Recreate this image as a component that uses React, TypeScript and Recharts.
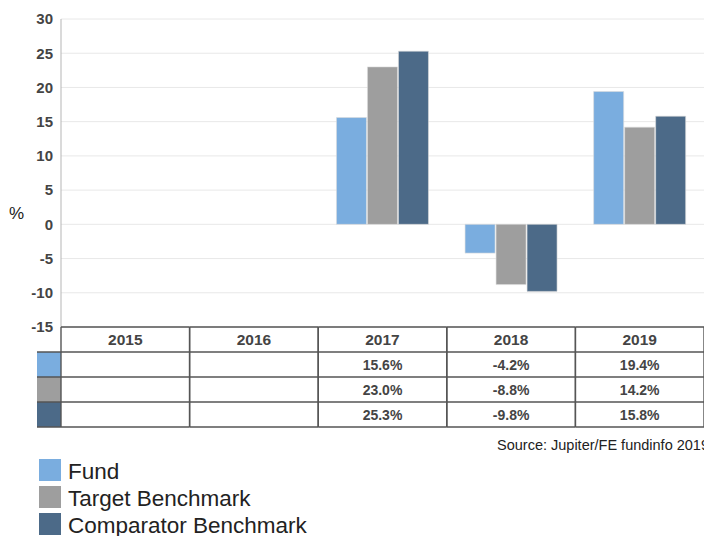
import { BarChart, Bar, XAxis, YAxis, CartesianGrid } from "recharts";

const YEARS = ["2015", "2016", "2017", "2018", "2019"];
const FUND = [null, null, 15.6, -4.2, 19.4];
const TARGET = [null, null, 23.0, -8.8, 14.2];
const COMPARATOR = [null, null, 25.3, -9.8, 15.8];
const Y_TICKS = [-15, -10, -5, 0, 5, 10, 15, 20, 25, 30];

const SERIES = [
  { key: "fund", name: "Fund", color: "#7aaddf", values: FUND },
  { key: "target", name: "Target Benchmark", color: "#9e9e9e", values: TARGET },
  { key: "comparator", name: "Comparator Benchmark", color: "#4c6a88", values: COMPARATOR },
];

const chartData = YEARS.map((year, i) => ({
  year,
  fund: FUND[i],
  target: TARGET[i],
  comparator: COMPARATOR[i],
}));

const FONT = '"Liberation Sans", Arial, sans-serif';
const CHART_W = 720;
const CHART_H = 536;
const Y_AXIS_W = 61;
const MARGIN = { top: 19, right: 16, left: 0, bottom: 109 };
const TABLE_H = 100;
const ROW_H = 25;
const SWATCH_W = 24;
const BAND = (CHART_W - MARGIN.right - MARGIN.left - Y_AXIS_W) / YEARS.length;
const LINE = "#555";

const fmt = (v: number | null) => (v == null ? "" : `${v.toFixed(1)}%`);

// x axis ticks draw the data table under the plot, one column per year
function TableTick(props: any) {
  const { x, y, payload } = props;
  const idx = payload.index ?? props.index ?? YEARS.indexOf(payload.value);
  const left = x - BAND / 2;
  const right = x + BAND / 2;
  const rows = [0, 1, 2, 3, 4].map((r) => y + r * ROW_H);
  return (
    <g>
      {idx === 0 &&
        SERIES.map((s, r) => (
          <rect
            key={s.key}
            x={left - SWATCH_W}
            y={rows[r + 1]}
            width={SWATCH_W}
            height={ROW_H}
            fill={s.color}
          />
        ))}
      {rows.map((ry, r) => (
        <line
          key={r}
          x1={idx === 0 && r > 0 ? left - SWATCH_W : left}
          x2={right}
          y1={ry}
          y2={ry}
          stroke={LINE}
          strokeWidth={1.4}
        />
      ))}
      <line x1={left} x2={left} y1={y} y2={y + TABLE_H} stroke={LINE} strokeWidth={1.4} />
      <line x1={right} x2={right} y1={y} y2={y + TABLE_H} stroke={LINE} strokeWidth={1.4} />
      <text
        x={x}
        y={y + 18}
        textAnchor="middle"
        fontFamily={FONT}
        fontWeight="bold"
        fontSize={15.5}
        fill="#444"
      >
        {payload.value}
      </text>
      {SERIES.map((s, r) => (
        <text
          key={s.key}
          x={x}
          y={rows[r + 1] + 18}
          textAnchor="middle"
          fontFamily={FONT}
          fontWeight="bold"
          fontSize={14}
          fill="#444"
        >
          {fmt(s.values[idx])}
        </text>
      ))}
    </g>
  );
}

export default function App() {
  return (
    <div
      style={{
        position: "fixed",
        left: 0,
        top: 0,
        width: 704,
        height: 536,
        overflow: "hidden",
        background: "#fff",
        fontFamily: FONT,
      }}
    >
      <BarChart
        width={CHART_W}
        height={CHART_H}
        data={chartData}
        margin={MARGIN}
        barCategoryGap="14.2%"
        barGap={1}
      >
        <CartesianGrid vertical={false} stroke="#e8e8e8" />
        <YAxis
          width={Y_AXIS_W}
          domain={[-15, 30]}
          ticks={Y_TICKS}
          interval={0}
          tickLine={false}
          axisLine={{ stroke: "#b5b5b5" }}
          tick={{ fontSize: 15, fontWeight: "bold", fill: "#444", fontFamily: FONT }}
          label={{
            value: "%",
            position: "insideLeft",
            offset: 9,
            dy: 40,
            style: { fontSize: 17, fill: "#222", fontFamily: FONT },
          }}
        />
        <XAxis
          dataKey="year"
          height={TABLE_H}
          axisLine={false}
          tickLine={false}
          tickSize={0}
          tickMargin={0}
          interval={0}
          tick={<TableTick />}
        />
        {SERIES.map((s) => (
          <Bar
            key={s.key}
            dataKey={s.key}
            name={s.name}
            fill={s.color}
            stroke="#dcdcdc"
            strokeWidth={0.6}
            isAnimationActive={false}
          />
        ))}
      </BarChart>
      <div
        style={{
          position: "absolute",
          left: 497,
          top: 437,
          fontSize: 14.5,
          color: "#222",
          whiteSpace: "nowrap",
        }}
      >
        Source: Jupiter/FE fundinfo 2019
      </div>
      <div style={{ position: "absolute", left: 39, top: 459 }}>
        {SERIES.map((s) => (
          <div
            key={s.key}
            style={{ display: "flex", alignItems: "center", height: 22, marginBottom: 5 }}
          >
            <div style={{ width: 22, height: 22, background: s.color }} />
            <span
              style={{
                marginLeft: 7,
                paddingTop: 3,
                fontSize: 22.5,
                color: "#222",
                lineHeight: "22px",
                whiteSpace: "nowrap",
              }}
            >
              {s.name}
            </span>
          </div>
        ))}
      </div>
    </div>
  );
}
